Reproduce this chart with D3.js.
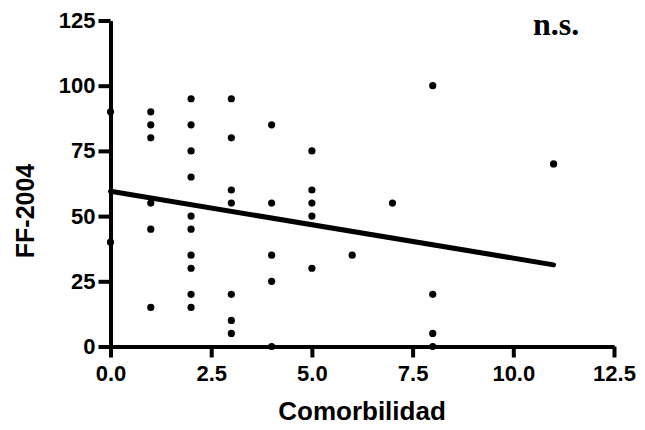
<!DOCTYPE html>
<html>
<head>
<meta charset="utf-8">
<script src="https://cdn.jsdelivr.net/npm/d3@7"></script>
<style>
  html, body { margin: 0; padding: 0; background: #fff; }
  svg { display: block; }
</style>
</head>
<body>
<script>
// Data
const comorbilidad = [0,0, 1,1,1,1,1,1, 2,2,2,2,2,2,2,2,2,2, 3,3,3,3,3,3,3, 4,4,4,4,4, 5,5,5,5,5, 6, 7, 8,8,8,8, 11];
const ff2004       = [90,40, 90,85,80,55,45,15, 95,85,75,65,50,45,35,30,20,15, 95,80,60,55,20,10,5, 85,55,35,25,0, 75,60,55,50,30, 35, 55, 100,20,5,0, 70];
const fitX = [0, 11];
const fitY = [59.5, 31.3];
const xTicks = [0, 2.5, 5, 7.5, 10, 12.5];
const yTicks = [0, 25, 50, 75, 100, 125];
const xTitle = "Comorbilidad";
const yTitle = "FF-2004";
const note = "n.s.";

const W = 645, H = 430;
const SANS = "'Liberation Sans', Arial, Helvetica, sans-serif";
const SERIF = "'Liberation Serif', 'Times New Roman', serif";
const svg = d3.select("body").append("svg").attr("width", W).attr("height", H);

const x = d3.scaleLinear().domain([0, 12.5]).range([110.5, 614]);
const y = d3.scaleLinear().domain([0, 125]).range([346.5, 20.5]);

function styleAxis(g) {
  g.select(".domain").attr("stroke", "#000").attr("stroke-width", 4);
  g.selectAll(".tick line").attr("stroke", "#000").attr("stroke-width", 4);
  g.selectAll(".tick text")
    .style("font-family", SANS).style("font-weight", "bold").style("font-size", "22px")
    .attr("fill", "#000");
}

// Y axis
const gy = svg.append("g").attr("transform", `translate(${x(0)},0)`)
  .call(d3.axisLeft(y).tickValues(yTicks).tickSize(12).tickSizeOuter(0).tickPadding(3).tickFormat(d3.format("d")));
styleAxis(gy);

// X axis
const gx = svg.append("g").attr("transform", `translate(0,${y(0)})`)
  .call(d3.axisBottom(x).tickValues(xTicks).tickSize(11).tickSizeOuter(0).tickPadding(8).tickFormat(d3.format(".1f")));
styleAxis(gx);

// Points
svg.append("g").selectAll("circle")
  .data(comorbilidad.map((c, i) => [c, ff2004[i]]))
  .join("circle")
  .attr("cx", d => x(d[0]))
  .attr("cy", d => y(d[1]))
  .attr("r", 3.6)
  .attr("fill", "#000");

// Regression line
svg.append("path")
  .datum(fitX.map((v, i) => [v, fitY[i]]))
  .attr("d", d3.line().x(d => x(d[0])).y(d => y(d[1])))
  .attr("stroke", "#000").attr("stroke-width", 5).attr("fill", "none")
  .attr("stroke-linecap", "round");

// Titles
svg.append("text").attr("x", 362).attr("y", 420).attr("text-anchor", "middle")
  .style("font-family", SANS).style("font-weight", "bold").style("font-size", "26px")
  .attr("fill", "#000").text(xTitle);
svg.append("text").attr("transform", "translate(34,211) rotate(-90)").attr("text-anchor", "middle")
  .style("font-family", SANS).style("font-weight", "bold").style("font-size", "25px")
  .attr("fill", "#000").text(yTitle);
svg.append("text").attr("x", 556).attr("y", 35).attr("text-anchor", "middle")
  .style("font-family", SERIF).style("font-weight", "bold").style("font-size", "32px")
  .attr("fill", "#000").text(note);
</script>
</body>
</html>
